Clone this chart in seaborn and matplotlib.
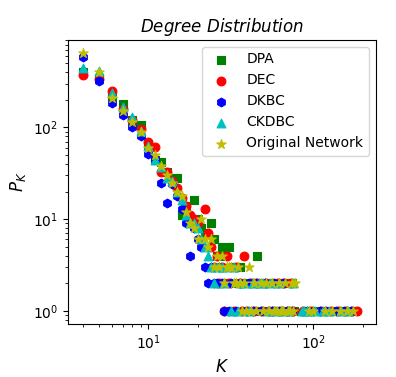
import pandas as pd
import matplotlib
matplotlib.use('Agg')
import matplotlib.pyplot as plt
import seaborn as sns


# degree K -> number of nodes P_K
dpa_k = [4, 5, 6, 7, 8, 9, 10, 11, 12, 13, 14, 15, 16, 17, 18, 19, 20, 21, 22, 24,
		 25, 26, 27, 28, 29, 30, 31, 32, 33, 35, 36, 38, 40, 42, 44, 46, 48, 50, 53, 55,
		 58, 60, 63, 65, 68, 70, 72, 75, 77, 90, 95, 105, 120, 135, 150, 165, 180]
dpa_p = [400, 350, 220, 180, 122, 105, 65, 44, 42, 33, 28, 28, 11, 14, 9, 16, 10, 8, 7, 9,
		 6, 4, 2, 5, 4, 2, 5, 1, 3, 2, 3, 1, 2, 1, 2, 4, 1, 2, 1, 2,
		 1, 2, 1, 2, 1, 2, 1, 2, 1, 1, 1, 1, 1, 1, 1, 1, 1]

dec_k = [4, 5, 6, 7, 8, 9, 10, 11, 12, 13, 14, 15, 16, 17, 18, 19, 20, 22, 23, 24,
		 25, 26, 27, 28, 29, 30, 31, 33, 34, 36, 37, 38, 40, 42, 44, 46, 49, 52, 54, 57,
		 61, 64, 67, 70, 73, 76, 87, 97, 112, 128, 142, 158, 172, 185]
dec_p = [370, 340, 252, 158, 120, 95, 69, 61, 33, 33, 26, 22, 17, 14, 11, 10, 9, 13, 7, 5,
		 3, 4, 2, 3, 1, 4, 2, 1, 3, 2, 1, 4, 1, 2, 1, 2, 1, 2, 1, 1,
		 2, 1, 2, 1, 2, 1, 1, 1, 1, 1, 1, 1, 1, 1]

dkbc_k = [4, 5, 6, 7, 8, 9, 10, 11, 12, 13, 14, 15, 16, 17, 18, 19, 20, 21, 22, 23,
		  24, 25, 26, 27, 28, 29, 31, 32, 34, 36, 39, 41, 43, 45, 48, 51, 56, 58, 62, 66,
		  69, 74, 92, 100, 110, 120, 138, 155, 170]
dkbc_p = [590, 325, 187, 135, 100, 80, 51, 45, 25, 15, 24, 18, 13, 9, 4, 8, 6, 5, 3, 2,
		  3, 2, 2, 3, 2, 1, 1, 2, 1, 2, 1, 2, 1, 2, 1, 2, 1, 2, 1, 2,
		  1, 1, 1, 1, 1, 1, 1, 1, 1]

ckdbc_k = [4, 5, 6, 7, 8, 9, 10, 11, 12, 13, 14, 15, 16, 17, 18, 19, 20, 21, 22, 23,
		   24, 25, 26, 28, 29, 30, 32, 33, 35, 36, 38, 41, 43, 47, 50, 53, 55, 59, 62, 65,
		   71, 76, 86, 88, 92, 103, 115, 125, 147, 162]
ckdbc_p = [440, 410, 240, 165, 129, 92, 62, 44, 37, 28, 26, 20, 16, 11, 9, 9, 8, 6, 5, 4,
		   3, 2, 3, 3, 2, 3, 1, 3, 1, 2, 2, 1, 2, 2, 2, 1, 2, 1, 2, 1,
		   1, 2, 1, 1, 1, 1, 1, 1, 1, 1]

orig_k = [4, 5, 6, 7, 8, 9, 10, 11, 12, 13, 14, 15, 16, 17, 18, 19, 20, 21, 22, 23,
		  24, 25, 26, 27, 28, 29, 30, 31, 32, 33, 34, 35, 36, 37, 38, 39, 41, 42, 44, 45,
		  48, 50, 52, 54, 56, 58, 60, 62, 64, 66, 68, 70, 72, 74, 76, 78, 95, 100, 118, 130,
		  145, 160, 175]
orig_p = [650, 400, 212, 150, 116, 90, 60, 50, 38, 30, 25, 20, 18, 12, 9, 8, 6, 10, 6, 5,
		  6, 3, 4, 3, 4, 2, 3, 3, 3, 2, 2, 3, 2, 1, 2, 1, 3, 1, 2, 1,
		  2, 1, 2, 1, 2, 1, 1, 2, 1, 1, 2, 1, 1, 2, 1, 2, 1, 1, 1, 1,
		  1, 1, 1]

series = [
	('DPA', dpa_k, dpa_p, 'green', 's', 36),
	('DEC', dec_k, dec_p, 'red', 'o', 40),
	('DKBC', dkbc_k, dkbc_p, 'blue', 'h', 40),
	('CKDBC', ckdbc_k, ckdbc_p, 'c', '^', 40),
	('Original Network', orig_k, orig_p, 'y', '*', 50),
]


fig, ax = plt.subplots(figsize=(3.96, 3.77), dpi=100)
fig.subplots_adjust(left=0.172, right=0.949, bottom=0.141, top=0.894)

for name, k, p, color, marker, size in series:
	df = pd.DataFrame({'K': k, 'P': p})
	sns.scatterplot(x='K', y='P', data=df, ax=ax, color=color, marker=marker,
					s=size, edgecolor=color, linewidth=0.8, label=name)

ax.set_xscale('log')
ax.set_yscale('log')
ax.set_xlim(3.27, 240)
ax.set_ylim(0.72, 900)
ax.set_title(r'$Degree\ Distribution$', fontsize=12)
ax.set_xlabel(r'$K$', fontsize=12)
ax.set_ylabel(r'$P_K$', fontsize=12)
ax.legend(loc='upper right', fontsize=10)

plt.savefig('out.png', dpi=100)
